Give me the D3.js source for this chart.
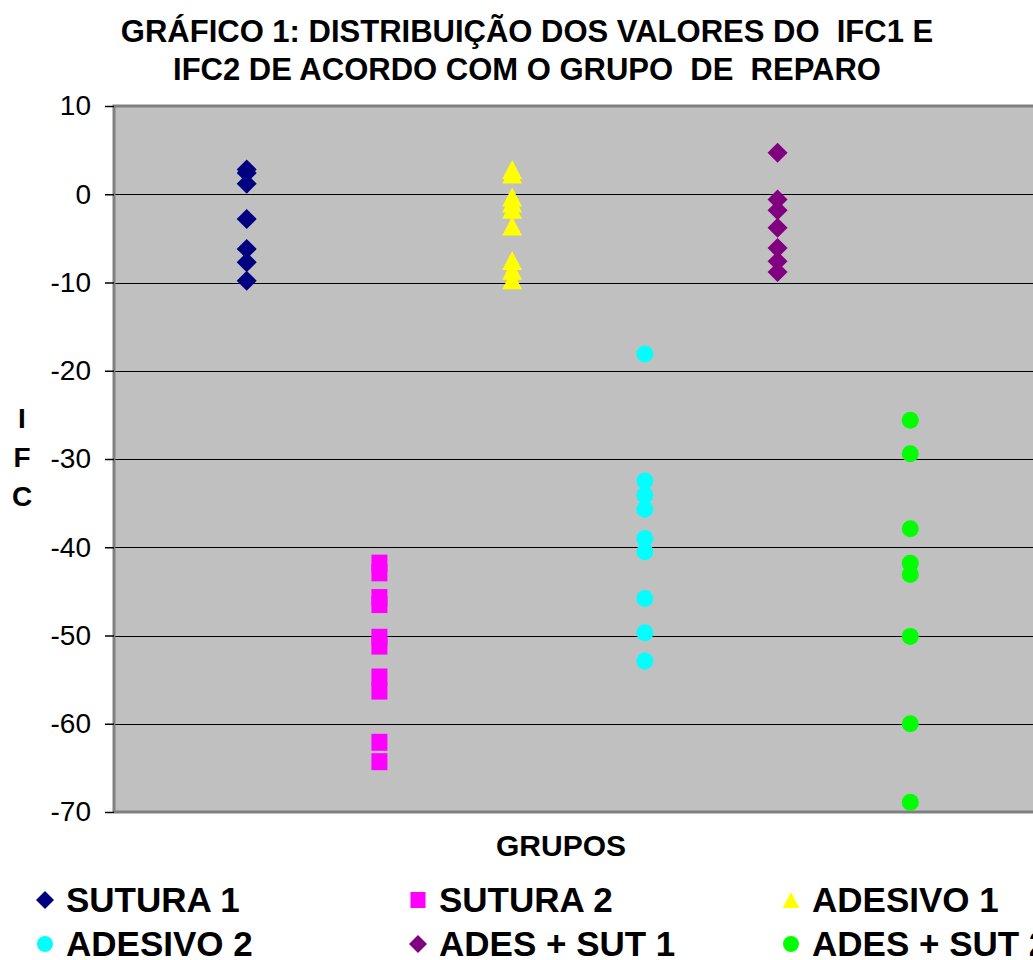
<!DOCTYPE html>
<html><head><meta charset="utf-8">
<script src="https://cdn.jsdelivr.net/npm/d3@7"></script>
<style>body{margin:0;background:#fff} text{font-family:Arial,"Liberation Sans",sans-serif}</style>
</head><body><svg id="c" width="1033" height="960"></svg>
<script>
// ---- data ----
const groups = ["SUTURA 1","SUTURA 2","ADESIVO 1","ADESIVO 2","ADES + SUT 1","ADES + SUT 2"];
const sutura1   = [2.8, 2.4, 1.2, -2.8, -6.2, -7.7, -9.8];
const sutura2   = [-41.8, -42.9, -45.7, -46.5, -50.2, -51.2, -54.7, -56.3, -62.1, -64.3];
const adesivo1  = [2.8, 2.3, -0.3, -1.0, -1.7, -3.6, -7.5, -8.6, -9.7];
const adesivo2  = [-18.1, -32.5, -34.1, -35.7, -39.0, -40.5, -45.8, -49.7, -52.9];
const adesSut1  = [4.7, -0.6, -1.8, -3.8, -6.1, -7.6, -8.8];
const adesSut2  = [-25.6, -29.4, -37.9, -41.8, -43.1, -50.1, -60.0, -68.9];
const yTicks = [10, 0, -10, -20, -30, -40, -50, -60, -70];
const titleLines = ["GRÁFICO 1: DISTRIBUIÇÃO DOS VALORES DO  IFC1 E", "IFC2 DE ACORDO COM O GRUPO  DE  REPARO"];
const yLabelChars = ["I","F","C"];
const xTitle = "GRUPOS";

const seriesValues = [sutura1, sutura2, adesivo1, adesivo2, adesSut1, adesSut2];
const colors = ["#000080","#FF00FF","#FFFF00","#00FFFF","#800080","#00FF00"];
const shapes = ["diamond","square","triangle","circle","diamond","circle"];

const svg = d3.select("#c");
const pL = 114, pR = 1043, pT = 106, pB = 812;
const x = d3.scaleLinear().domain([0, 7]).range([pL, pR]);
const y = d3.scaleLinear().domain([-70, 10]).range([pB, pT]);

// plot area
svg.append("rect").attr("x", pL).attr("y", pT).attr("width", pR - pL).attr("height", pB - pT)
  .attr("fill", "#C0C0C0");
// gridlines
svg.append("g").selectAll("line").data(yTicks.filter(d => d !== 10 && d !== -70)).join("line")
  .attr("x1", pL).attr("x2", pR).attr("y1", d => Math.round(y(d)) + 0.5).attr("y2", d => Math.round(y(d)) + 0.5)
  .attr("stroke", "#000").attr("stroke-width", 1.2);
// border
svg.append("path").attr("d", `M${pL},${pB}V${pT}H${pR}`).attr("fill", "none").attr("stroke", "#808080").attr("stroke-width", 3);
svg.append("line").attr("x1", pL).attr("x2", pR).attr("y1", pB).attr("y2", pB).attr("stroke", "#808080").attr("stroke-width", 3);

// y axis
const yAxis = d3.axisLeft(y).tickValues(yTicks).tickSize(9).tickPadding(14).tickFormat(d3.format("d"));
const ga = svg.append("g").attr("transform", `translate(${pL},0)`).call(yAxis);
ga.select(".domain").remove();
ga.selectAll(".tick line").attr("stroke", "#000").attr("stroke-width", 1.5);
ga.selectAll(".tick text").attr("font-size", 28).attr("fill", "#000").attr("font-family", "Arial, 'Liberation Sans', sans-serif")
  .text(d => d < 0 ? "-" + Math.abs(d) : d);

// markers
function shapePath(type, s) {
  const p = d3.path();
  if (type === "diamond") { const r = s / 2; p.moveTo(0, -r); p.lineTo(r, 0); p.lineTo(0, r); p.lineTo(-r, 0); p.closePath(); }
  else if (type === "square") { p.rect(-s * 0.47, -s * 0.5, s * 0.94, s); }
  else if (type === "triangle") { const h = s; p.moveTo(0, -h / 2); p.lineTo(h * 0.52, h / 2); p.lineTo(-h * 0.52, h / 2); p.closePath(); }
  else { p.arc(0, 0, s / 2, 0, 2 * Math.PI); }
  return p.toString();
}
const sizes = {diamond: 20, square: 17, triangle: 19, circle: 17};
seriesValues.forEach((vals, i) => {
  svg.append("g").selectAll("path").data(vals).join("path")
    .attr("transform", d => `translate(${x(i + 1)},${y(d)})`)
    .attr("d", shapePath(shapes[i], sizes[shapes[i]]))
    .attr("fill", colors[i]);
});

// title
svg.append("g").selectAll("text").data(titleLines).join("text")
  .attr("x", 527).attr("y", (d, i) => 42 + i * 38).attr("text-anchor", "middle")
  .attr("font-size", 31).attr("font-weight", "bold").style("white-space", "pre").text(d => d);

// y label
svg.append("g").selectAll("text").data(yLabelChars).join("text")
  .attr("x", 22).attr("y", (d, i) => 428 + i * 39).attr("text-anchor", "middle")
  .attr("font-size", 28).attr("font-weight", "bold").text(d => d);

// x title
svg.append("text").attr("x", 561).attr("y", 856).attr("text-anchor", "middle")
  .attr("font-size", 30).attr("font-weight", "bold").text(xTitle);

// legend
const legX = [45, 418, 791], legY = [900, 944];
groups.forEach((g, i) => {
  const cx = legX[i % 3], cy = legY[Math.floor(i / 3)];
  const t = shapes[i];
  svg.append("path").attr("transform", `translate(${cx},${cy})`)
    .attr("d", shapePath(t, t === "diamond" ? 18 : 16)).attr("fill", colors[i]);
  svg.append("text").attr("x", cx + 21).attr("y", cy + 12).attr("font-size", 35).attr("font-weight", "bold").text(g);
});
</script></body></html>
